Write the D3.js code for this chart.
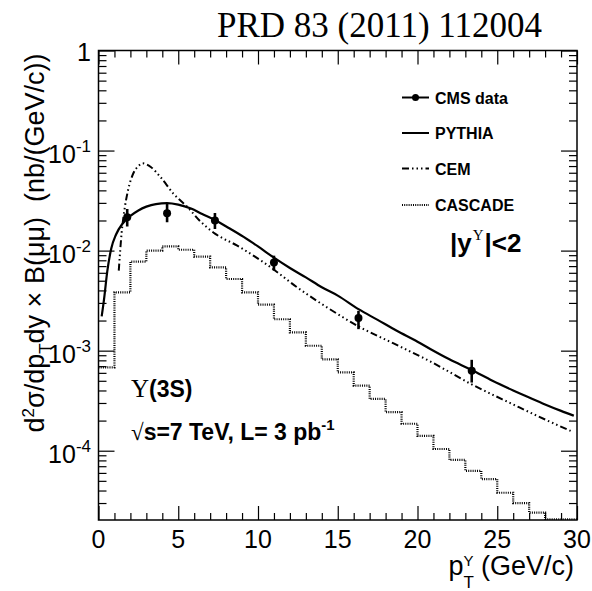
<!DOCTYPE html>
<html>
<head>
<meta charset="utf-8">
<script src="https://cdn.jsdelivr.net/npm/d3@7"></script>
<style>
  html, body { margin: 0; padding: 0; background: #fff; }
  svg { display: block; font-family: "Liberation Sans", Arial, sans-serif; }
  text { white-space: pre; }
</style>
</head>
<body>
<svg id="chart" width="592" height="591"></svg>
<script>
// CMS data points
const dataPt = [1.8, 4.3, 7.3, 11.0, 16.3, 23.4];
const dataVal = [0.0216, 0.0236, 0.0200, 0.0076, 0.00212, 0.00063];
const dataHi = [0.0261, 0.0294, 0.0238, 0.0089, 0.0025, 0.00081];
const dataLo = [0.0174, 0.0192, 0.0164, 0.0063, 0.00164, 0.00048];

// PYTHIA curve
const pythiaPt = [0.2, 0.35, 0.55, 0.8, 1.1, 1.5, 2.0, 2.5, 3.0, 3.6, 4.3, 5.0, 5.8, 6.5, 7.3, 8.2, 9.1, 10.0, 11.0, 12.0, 13.0, 14.0, 15.0, 16.3, 17.5, 18.7, 20.0, 20.8, 22.0, 23.4, 24.7, 26.0, 27.0, 28.0, 29.0, 29.8];
const pythiaVal = [0.0022, 0.0033, 0.0062, 0.0105, 0.0145, 0.0185, 0.0222, 0.0252, 0.0275, 0.0292, 0.0298, 0.0288, 0.0263, 0.0232, 0.0202, 0.0167, 0.0137, 0.0110, 0.0085, 0.0067, 0.0054, 0.0043, 0.00355, 0.0026, 0.00203, 0.00158, 0.00123, 0.00104, 0.00082, 0.00064, 0.0005, 0.0004, 0.00034, 0.00029, 0.00025, 0.000224];

// CEM curve
const cemPt = [1.27, 1.45, 1.65, 1.85, 2.2, 2.5, 2.75, 3.0, 3.3, 3.9, 4.7, 5.6, 6.4, 7.3, 8.7, 10.8, 12.45, 14.5, 16.3, 18.5, 20.8, 23.4, 26.0, 28.0, 29.6];
const cemVal = [0.0063, 0.015, 0.027, 0.040, 0.060, 0.070, 0.0745, 0.073, 0.068, 0.054, 0.037, 0.027, 0.0195, 0.0148, 0.0112, 0.0068, 0.0043, 0.0026, 0.00175, 0.00118, 0.00078, 0.00046, 0.00029, 0.000205, 0.000158];

// CASCADE histogram (1 GeV bins)
const cascadeEdges = [0, 1, 2, 3, 4, 5, 6, 7, 8, 9, 10, 11, 12, 13, 14, 15, 16, 17, 18, 19, 20, 21, 22, 23, 24, 25, 26, 27, 28, 29, 30];
const cascadeVal = [0.00068, 0.00383, 0.00776, 0.0100, 0.0110, 0.0102, 0.0087, 0.0068, 0.0052, 0.00383, 0.00288, 0.00206, 0.00152, 0.00112, 0.00082, 0.000607, 0.000447, 0.000329, 0.000243, 0.000186, 0.000141, 0.000104, 0.000081, 0.000063, 0.000052, 0.000038, 0.000030, 0.000024, 0.0000206, 0.0000206];

const xMajor = [0, 5, 10, 15, 20, 25, 30];
const yDecades = [1e-4, 1e-3, 1e-2, 1e-1, 1];
const yLabels = [["10", "-4"], ["10", "-3"], ["10", "-2"], ["10", "-1"], ["1", ""]];

const plot = { left: 98.5, right: 577, top: 50.5, bottom: 520 };

const x = d3.scaleLinear().domain([0, 30]).range([plot.left, plot.right]);
const y = d3.scaleLog().domain([2.03e-5, 1]).range([plot.bottom, plot.top]);

const svg = d3.select("#chart");

svg.append("defs").append("clipPath").attr("id", "clip")
  .append("rect")
  .attr("x", plot.left).attr("y", plot.top)
  .attr("width", plot.right - plot.left).attr("height", plot.bottom - plot.top);

// minor tick values
const xMinor = d3.range(0, 31).filter((v) => v % 5 !== 0);
const yMinor = [];
[1e-5, 1e-4, 1e-3, 1e-2, 1e-1].forEach((dec) => {
  for (let k = 2; k <= 9; k++) {
    const v = k * dec;
    if (v >= 2.03e-5 && v < 1) yMinor.push(v);
  }
});

function tickAxis(axis, tx, ty) {
  const g = svg.append("g")
    .attr("transform", `translate(${tx},${ty})`)
    .call(axis);
  g.select(".domain").remove();
  g.selectAll("line").attr("stroke", "#000").attr("stroke-width", 1.2);
  g.selectAll("text").remove();
  return g;
}

// x ticks (bottom + top, pointing inward)
tickAxis(d3.axisBottom(x).tickValues(xMajor).tickSize(-14), 0, plot.bottom);
tickAxis(d3.axisBottom(x).tickValues(xMinor).tickSize(-7), 0, plot.bottom);
tickAxis(d3.axisTop(x).tickValues(xMajor).tickSize(-14), 0, plot.top);
tickAxis(d3.axisTop(x).tickValues(xMinor).tickSize(-7), 0, plot.top);

// y ticks (left + right)
tickAxis(d3.axisLeft(y).tickValues(yDecades).tickSize(-16), plot.left, 0);
tickAxis(d3.axisLeft(y).tickValues(yMinor).tickSize(-8), plot.left, 0);
tickAxis(d3.axisRight(y).tickValues(yDecades).tickSize(-16), plot.right, 0);
tickAxis(d3.axisRight(y).tickValues(yMinor).tickSize(-8), plot.right, 0);

// frame
svg.append("rect")
  .attr("x", plot.left).attr("y", plot.top)
  .attr("width", plot.right - plot.left).attr("height", plot.bottom - plot.top)
  .attr("fill", "none").attr("stroke", "#000").attr("stroke-width", 1.5);

// x tick labels
svg.append("g").selectAll("text")
  .data(xMajor)
  .join("text")
  .attr("x", (d) => x(d))
  .attr("y", 548)
  .attr("text-anchor", "middle")
  .style("font-size", "25px")
  .text((d) => d);

// y tick labels
yDecades.forEach((v, i) => {
  const [base, exp] = yLabels[i];
  const t = svg.append("text")
    .attr("x", 91)
    .attr("y", y(v) + (exp ? 12.5 : 10))
    .attr("text-anchor", "end")
    .style("font-size", "25px");
  t.append("tspan").text(base);
  if (exp) {
    t.append("tspan").attr("dy", -11).style("font-size", "17px").text(exp);
  }
});

// CASCADE histogram
const cascadePts = cascadeVal.map((v, i) => [cascadeEdges[i], v]);
cascadePts.push([cascadeEdges[cascadeEdges.length - 1], cascadeVal[cascadeVal.length - 1]]);
const stepLine = d3.line()
  .x((d) => x(d[0]))
  .y((d) => y(d[1]))
  .curve(d3.curveStepAfter);

const plotArea = svg.append("g").attr("clip-path", "url(#clip)");

plotArea.append("path")
  .attr("d", stepLine(cascadePts))
  .attr("fill", "none")
  .attr("stroke", "#000")
  .attr("stroke-width", 2.2)
  .attr("stroke-dasharray", "1,1.2");

const smooth = d3.line()
  .x((d) => x(d[0]))
  .y((d) => y(d[1]))
  .curve(d3.curveMonotoneX);

// CEM
plotArea.append("path")
  .attr("d", smooth(cemPt.map((p, i) => [p, cemVal[i]])))
  .attr("fill", "none")
  .attr("stroke", "#000")
  .attr("stroke-width", 2)
  .attr("stroke-dasharray", "7,3,1.5,3,1.5,3,1.5,3");

// PYTHIA
plotArea.append("path")
  .attr("d", smooth(pythiaPt.map((p, i) => [p, pythiaVal[i]])))
  .attr("fill", "none")
  .attr("stroke", "#000")
  .attr("stroke-width", 2.2);

// CMS data with error bars
const pts = dataPt.map((p, i) => ({ p, v: dataVal[i], lo: dataLo[i], hi: dataHi[i] }));
plotArea.selectAll("line.err")
  .data(pts)
  .join("line")
  .attr("class", "err")
  .attr("x1", (d) => x(d.p)).attr("x2", (d) => x(d.p))
  .attr("y1", (d) => y(d.lo)).attr("y2", (d) => y(d.hi))
  .attr("stroke", "#000").attr("stroke-width", 2.6);
plotArea.selectAll("circle.pt")
  .data(pts)
  .join("circle")
  .attr("class", "pt")
  .attr("cx", (d) => x(d.p)).attr("cy", (d) => y(d.v))
  .attr("r", 4)
  .attr("fill", "#000");

// Legend
const legendRows = [
  { label: "CMS data", y: 97.5, dash: null, marker: true },
  { label: "PYTHIA", y: 133, dash: null, marker: false },
  { label: "CEM", y: 168.5, dash: "7,3,1.5,3,1.5,3,1.5,3", marker: false },
  { label: "CASCADE", y: 205, dash: "1,1.2", marker: false },
];
const legend = svg.append("g");
legendRows.forEach((r) => {
  legend.append("line")
    .attr("x1", 402).attr("x2", 429)
    .attr("y1", r.y).attr("y2", r.y)
    .attr("stroke", "#000").attr("stroke-width", 2)
    .attr("stroke-dasharray", r.dash);
  if (r.marker) {
    legend.append("circle").attr("cx", 415.5).attr("cy", r.y).attr("r", 3.5).attr("fill", "#000");
  }
  legend.append("text")
    .attr("x", 435).attr("y", r.y + 6)
    .style("font-size", "16px").style("font-weight", "bold")
    .text(r.label);
});

// |y^Y|<2
const rap = svg.append("text")
  .attr("x", 450).attr("y", 252)
  .style("font-size", "26px").style("font-weight", "bold");
rap.append("tspan").text("|y");
rap.append("tspan").attr("dy", -12).attr("dx", 1)
  .style("font-family", "'Liberation Serif', serif").style("font-weight", "normal")
  .style("font-size", "15px").text("Υ");
rap.append("tspan").attr("dy", 12).attr("dx", 1).text("|<2");

// Upsilon(3S)
const ups = svg.append("text")
  .attr("x", 131).attr("y", 397)
  .style("font-size", "23px");
ups.append("tspan").style("font-family", "'Liberation Serif', serif").style("font-size", "25px").text("Υ");
ups.append("tspan").style("font-weight", "bold").text("(3S)");

const energy = svg.append("text")
  .attr("x", 131).attr("y", 440)
  .style("font-size", "23px").style("font-weight", "bold");
energy.append("tspan").style("font-weight", "normal").style("font-family", "'Liberation Serif', serif").text("√");
energy.append("tspan").text("s=7 TeV, L= 3 pb");
energy.append("tspan").attr("dy", -10).style("font-size", "15px").text("-1");

// Title
svg.append("text")
  .attr("x", 542).attr("y", 37)
  .attr("text-anchor", "end")
  .style("font-family", "'Liberation Serif', 'Times New Roman', serif")
  .style("font-size", "35px")
  .text("PRD 83 (2011) 112004");

// X axis title
const xt = svg.append("text")
  .attr("x", 574).attr("y", 575)
  .attr("text-anchor", "end")
  .style("font-size", "27px");
xt.append("tspan").text("p");
xt.append("tspan").attr("dy", 13).style("font-size", "17px").text("T");
xt.append("tspan").attr("dy", -22).attr("dx", -10.5)
  .style("font-size", "15px").text("Υ");
xt.append("tspan").attr("dy", 9).text(" (GeV/c)");

// Y axis title
const yt = svg.append("text")
  .attr("transform", "translate(44,243) rotate(-90)")
  .attr("text-anchor", "middle")
  .style("font-size", "27px");
yt.append("tspan").text("d");
yt.append("tspan").attr("dy", -10).style("font-size", "17px").text("2");
yt.append("tspan").attr("dy", 10).text("σ/dp");
yt.append("tspan").attr("dy", 7).style("font-size", "17px").text("T");
yt.append("tspan").attr("dy", -7).text("dy × B(μμ)  (nb/(GeV/c))");
</script>
</body>
</html>
